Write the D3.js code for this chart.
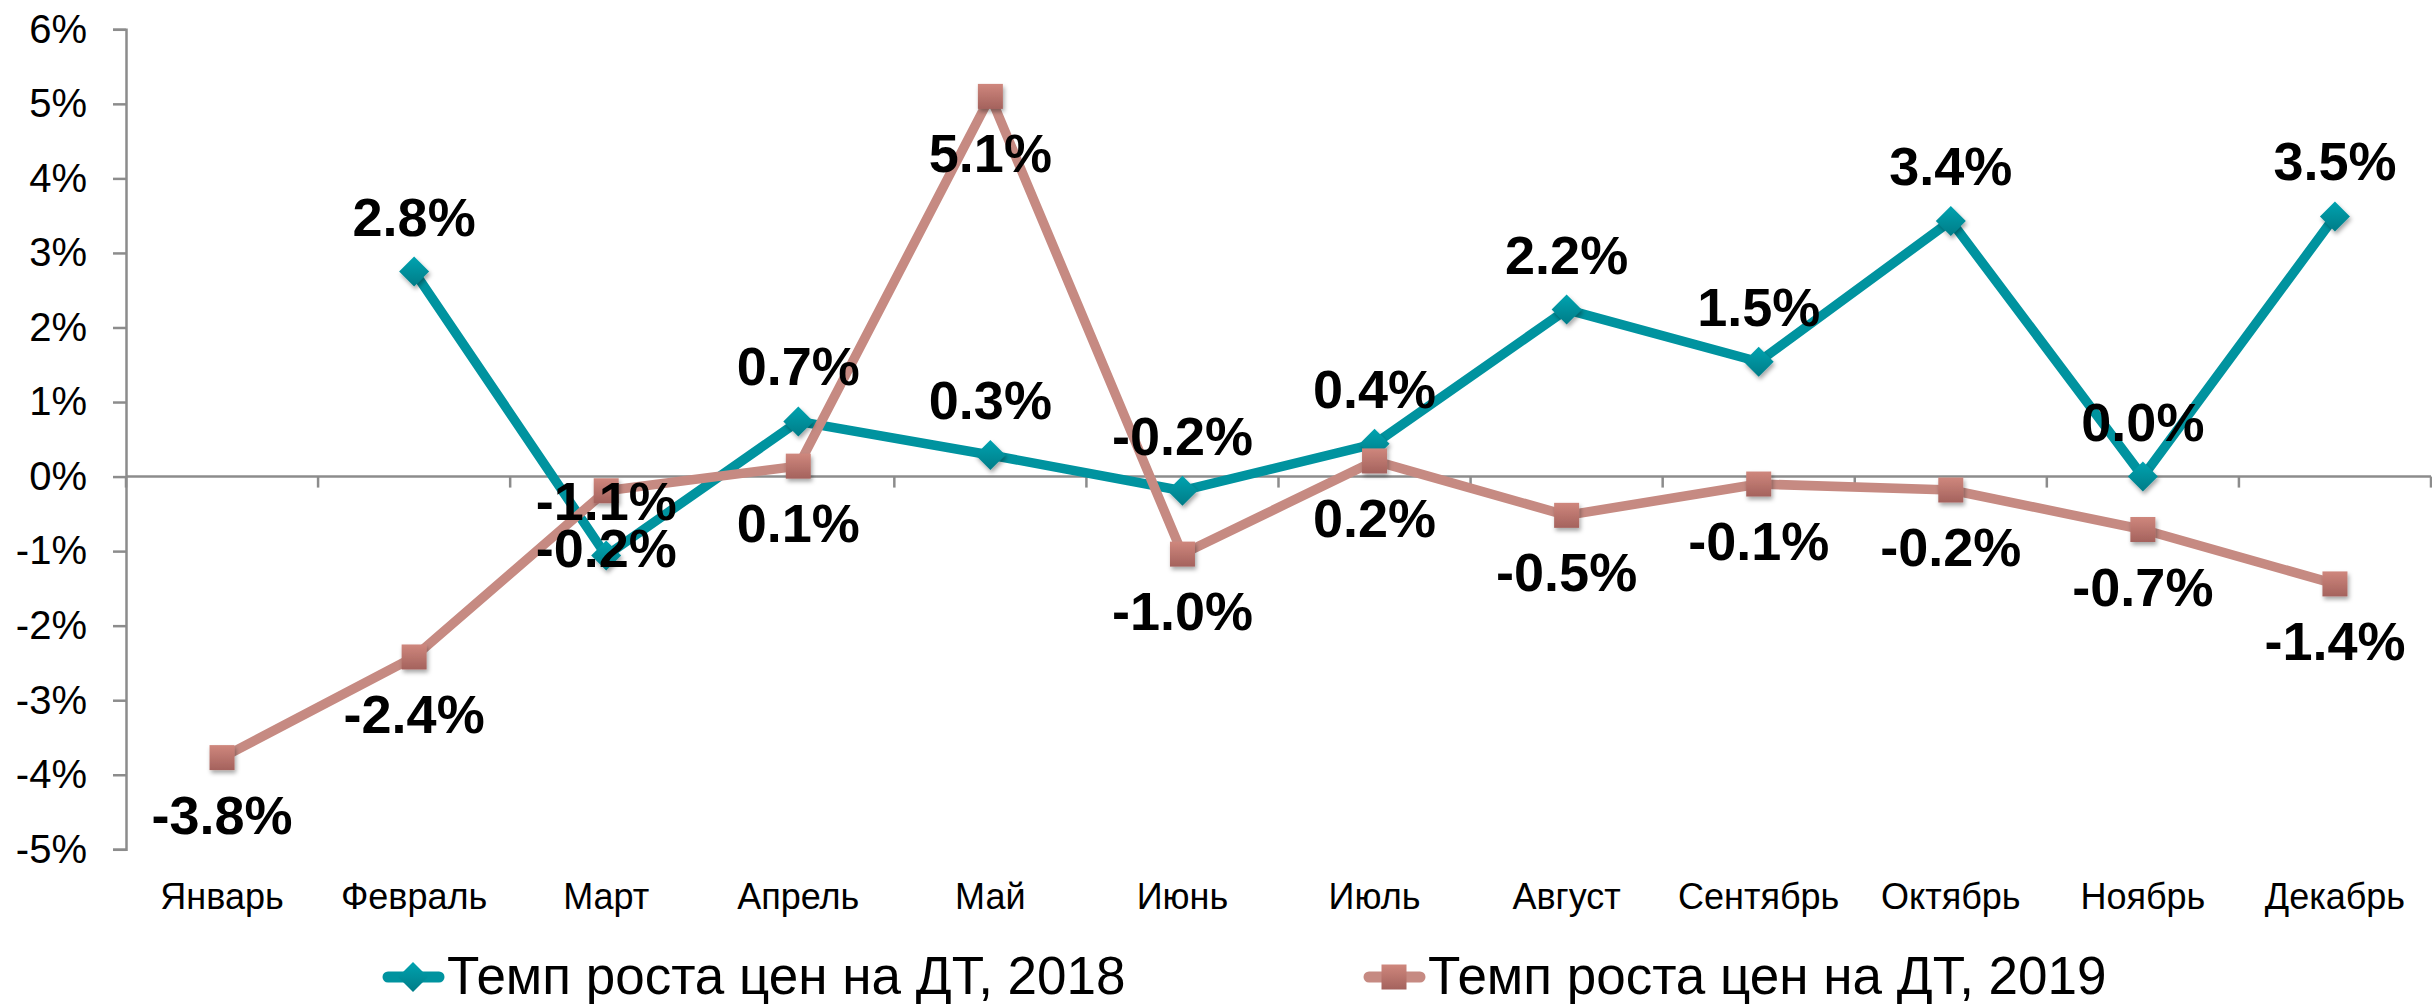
<!DOCTYPE html>
<html><head><meta charset="utf-8">
<script src="https://cdn.jsdelivr.net/npm/d3@7"></script>
<style>html,body{margin:0;padding:0;background:#fff;}svg{display:block;font-family:Arial,"Liberation Sans",sans-serif;}</style>
</head><body>
<svg id="chart" width="2432" height="1004"></svg>
<script>
const months = ["Январь","Февраль","Март","Апрель","Май","Июнь","Июль","Август","Сентябрь","Октябрь","Ноябрь","Декабрь"];
const values2018 = [null, 2.75, -1.06, 0.74, 0.29, -0.19, 0.44, 2.24, 1.54, 3.43, 0.0, 3.49];
const values2019 = [-3.77, -2.42, -0.19, 0.14, 5.1, -1.04, 0.21, -0.52, -0.1, -0.18, -0.71, -1.44];
const yTicks = [6,5,4,3,2,1,0,-1,-2,-3,-4,-5];
const seriesNames = ["Темп роста цен на ДТ, 2018","Темп роста цен на ДТ, 2019"];

const TEAL = "#00939F", ROSE = "#C68A82";
const svg = d3.select("#chart");
const defs = svg.append("defs");
const sg = defs.append("linearGradient").attr("id","sqGrad").attr("x1",0).attr("y1",0).attr("x2",0).attr("y2",1);
sg.append("stop").attr("offset","0").attr("stop-color","#CF877D");
sg.append("stop").attr("offset","1").attr("stop-color","#A4625D");
const dg = defs.append("linearGradient").attr("id","dmGrad").attr("x1",0).attr("y1",0).attr("x2",0).attr("y2",1);
dg.append("stop").attr("offset","0").attr("stop-color","#00A3B0");
dg.append("stop").attr("offset","1").attr("stop-color","#007C87");
const f = defs.append("filter").attr("id","shadow").attr("x","-50%").attr("y","-50%").attr("width","200%").attr("height","200%");
f.append("feDropShadow").attr("dx",1.5).attr("dy",3).attr("stdDeviation",2).attr("flood-color","#000").attr("flood-opacity",0.35);

const x = d3.scaleBand().domain(months).range([126, 2431]).padding(0);
const y = d3.scaleLinear().domain([-5, 6]).range([849.3, 29.3]);
const cx = m => x(m) + x.bandwidth()/2;

// Y axis
const yAxis = d3.axisLeft(y).tickValues(yTicks).tickSize(13).tickPadding(26).tickFormat(d => d + "%");
const gy = svg.append("g").attr("transform","translate(126,0)").call(yAxis);
gy.select(".domain").attr("stroke","#8c8c8c").attr("stroke-width",2.5);
gy.selectAll(".tick line").attr("stroke","#8c8c8c").attr("stroke-width",2.5);
gy.selectAll(".tick text").attr("font-size",40).attr("fill","#000").attr("font-family","Arial, 'Liberation Sans', sans-serif");

// X axis line at zero
const y0 = y(0);
svg.append("line").attr("x1",126).attr("x2",2431).attr("y1",y0).attr("y2",y0).attr("stroke","#8c8c8c").attr("stroke-width",2.5);
const bounds = months.map(m => x(m)).concat([x(months[months.length-1]) + x.bandwidth()]);
svg.append("g").selectAll("line").data(bounds).join("line")
  .attr("x1",d=>d).attr("x2",d=>d).attr("y1",y0).attr("y2",y0+11)
  .attr("stroke","#8c8c8c").attr("stroke-width",2.5);

// X labels
svg.append("g").selectAll("text").data(months).join("text")
  .attr("x", d => cx(d)).attr("y", 909).attr("text-anchor","middle")
  .attr("font-size",36).attr("fill","#000").text(d => d);

// Lines
const line = d3.line().defined(d => d.v !== null).x(d => cx(d.m)).y(d => y(d.v));
const d18 = months.map((m,i) => ({m, v: values2018[i]}));
const d19 = months.map((m,i) => ({m, v: values2019[i]}));

svg.append("path").datum(d18).attr("d", line).attr("fill","none").attr("stroke",TEAL).attr("stroke-width",9.5).attr("stroke-linejoin","round");
svg.append("path").datum(d19).attr("d", line).attr("fill","none").attr("stroke",ROSE).attr("stroke-width",9.5).attr("stroke-linejoin","round");

// Markers
const DM = 15, SQ = 12.5;
svg.append("g").selectAll("path").data(d18.filter(d => d.v !== null)).join("path")
  .attr("d", d => { const px = cx(d.m), py = y(d.v); return `M${px},${py-DM}L${px+DM},${py}L${px},${py+DM}L${px-DM},${py}Z`; })
  .attr("fill","url(#dmGrad)").attr("filter","url(#shadow)");
svg.append("g").selectAll("rect").data(d19).join("rect")
  .attr("x", d => cx(d.m) - SQ).attr("y", d => y(d.v) - SQ).attr("width", SQ*2).attr("height", SQ*2)
  .attr("fill","url(#sqGrad)").attr("filter","url(#shadow)");

// Data labels
const fmt = v => v.toFixed(1) + "%";
svg.append("g").selectAll("text").data(d18.filter(d => d.v !== null)).join("text")
  .attr("x", d => cx(d.m)).attr("y", d => y(d.v) - 36).attr("text-anchor","middle")
  .attr("font-size",54).attr("font-weight","bold").attr("fill","#000").text(d => fmt(d.v));
svg.append("g").selectAll("text").data(d19).join("text")
  .attr("x", d => cx(d.m)).attr("y", d => y(d.v) + 76).attr("text-anchor","middle")
  .attr("font-size",54).attr("font-weight","bold").attr("fill","#000").text(d => fmt(d.v));

// Legend
const leg = [{x:383, name:seriesNames[0], color:TEAL, type:"d"},{x:1364, name:seriesNames[1], color:ROSE, type:"s"}];
const ly = 977;
leg.forEach(l => {
  const g = svg.append("g");
  g.append("line").attr("x1",l.x+5).attr("x2",l.x+56).attr("y1",ly).attr("y2",ly).attr("stroke",l.color).attr("stroke-width",11).attr("stroke-linecap","round");
  const mx = l.x + 30;
  if (l.type === "d") {
    g.append("path").attr("d",`M${mx},${ly-DM}L${mx+DM},${ly}L${mx},${ly+DM}L${mx-DM},${ly}Z`).attr("fill","url(#dmGrad)");
  } else {
    g.append("rect").attr("x",mx-SQ).attr("y",ly-SQ).attr("width",SQ*2).attr("height",SQ*2).attr("fill","url(#sqGrad)");
  }
  g.append("text").attr("x", l.x + 64).attr("y", 994).attr("font-size",53).attr("fill","#000").text(l.name);
});
</script>
</body></html>
